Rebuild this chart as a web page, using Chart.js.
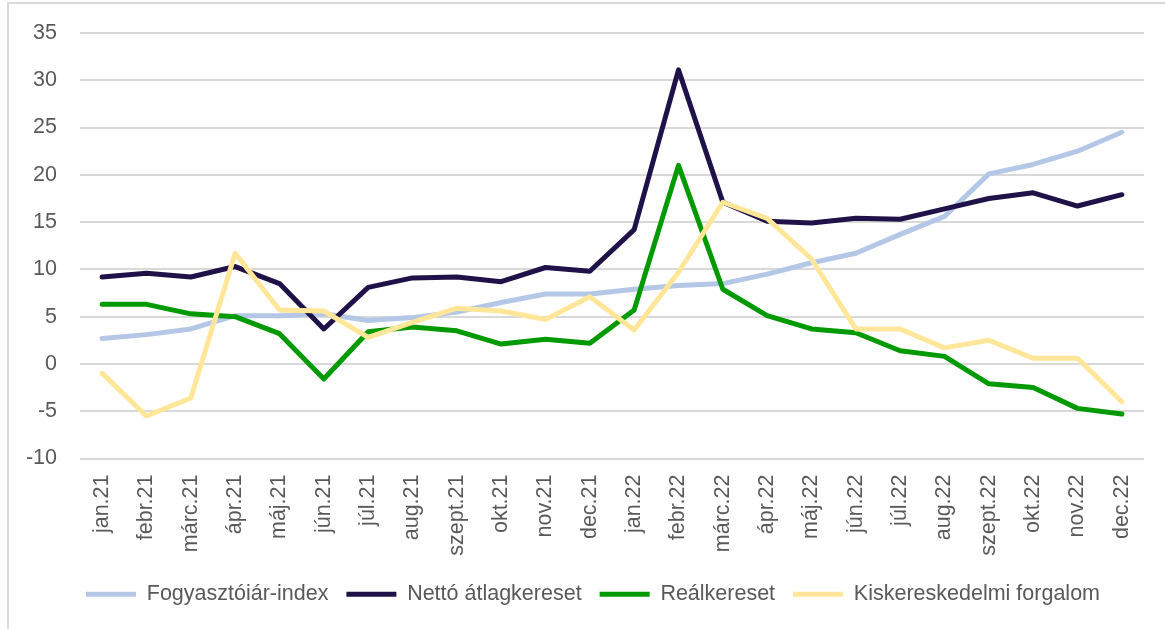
<!DOCTYPE html>
<html>
<head>
<meta charset="utf-8">
<script src="https://cdn.jsdelivr.net/npm/chart.js@4/dist/chart.umd.min.js"></script>
<style>
  html, body { margin: 0; padding: 0; background: #fff; }
  #wrap { position: relative; width: 1165px; height: 629px; overflow: hidden; }
  #frame { position: absolute; left: 7px; top: 2px; width: 1200px; height: 700px;
           border-left: 2px solid #d9d9d9; border-top: 2px solid #d9d9d9; }
  #c { position: absolute; left: 0; top: 0; }
</style>
</head>
<body>
<div id="wrap">
  <div id="frame"></div>
  <canvas id="c" width="1165" height="629"></canvas>
</div>
<script>
const categories = ["jan.21","febr.21","márc.21","ápr.21","máj.21","jún.21","júl.21","aug.21","szept.21","okt.21","nov.21","dec.21",
                    "jan.22","febr.22","márc.22","ápr.22","máj.22","jún.22","júl.22","aug.22","szept.22","okt.22","nov.22","dec.22"];
const fogyasztoiarIndex = [2.7,3.1,3.7,5.1,5.1,5.3,4.6,4.9,5.5,6.5,7.4,7.4,7.9,8.3,8.5,9.5,10.7,11.7,13.7,15.6,20.1,21.1,22.5,24.5];
const nettoAtlagkereset = [9.2,9.6,9.2,10.3,8.5,3.7,8.1,9.1,9.2,8.7,10.2,9.8,14.2,31.1,17.1,15.1,14.9,15.4,15.3,16.4,17.5,18.1,16.7,17.9];
const realkereset = [6.3,6.3,5.3,5.0,3.2,-1.6,3.4,3.9,3.5,2.1,2.6,2.2,5.7,21.0,7.9,5.1,3.7,3.3,1.4,0.8,-2.1,-2.5,-4.7,-5.3];
const kiskereskedelmiForgalom = [-1.0,-5.5,-3.6,11.7,5.7,5.6,2.8,4.4,5.9,5.6,4.7,7.1,3.6,9.7,17.1,15.4,11.1,3.7,3.7,1.7,2.5,0.6,0.6,-4.0];
const seriesNames = ["Fogyasztóiár-index","Nettó átlagkereset","Reálkereset","Kiskereskedelmi forgalom"];
const yTicks = { min: -10, max: 35, step: 5 };

const colors = ["#B4C7E7", "#1F1248", "#009A00", "#FFE699"];
const seriesData = [fogyasztoiarIndex, nettoAtlagkereset, realkereset, kiskereskedelmiForgalom];
const FONT = "'Liberation Sans', Arial, sans-serif";
const TXT = "#595959";

const datasets = seriesData.map((d, i) => ({
  label: seriesNames[i],
  data: d,
  borderColor: colors[i],
  backgroundColor: colors[i],
  borderWidth: 5,
  pointRadius: 0,
  pointHoverRadius: 0,
  tension: 0,
  fill: false,
  borderCapStyle: 'round',
  borderJoinStyle: 'round',
  order: seriesData.length - 1 - i
}));

const legendShift = {
  id: 'legendShift',
  beforeDraw(chart) {
    if (chart.legend) { chart.legend.left = 68; }
  }
};

new Chart(document.getElementById('c'), {
  type: 'line',
  data: { labels: categories, datasets },
  plugins: [legendShift],
  options: {
    responsive: false,
    animation: false,
    events: [],
    layout: { padding: { left: 0, right: 21, top: 33, bottom: 14 } },
    plugins: {
      tooltip: { enabled: false },
      legend: {
        position: 'bottom',
        align: 'start',
        labels: {
          font: { family: FONT, size: 21.5 },
          color: TXT,
          boxWidth: 50,
          boxHeight: 5,
          padding: 18,
          sort: (a, b) => a.datasetIndex - b.datasetIndex,
          generateLabels: (chart) => Chart.defaults.plugins.legend.labels.generateLabels(chart)
            .map(l => Object.assign(l, { lineWidth: 0, fillStyle: l.strokeStyle }))
        }
      }
    },
    scales: {
      x: {
        type: 'category',
        offset: true,
        grid: { display: false, drawTicks: false },
        border: { display: false },
        ticks: {
          font: { family: FONT, size: 21.5 },
          color: TXT,
          minRotation: 90,
          maxRotation: 90,
          autoSkip: false,
          padding: 16
        },
        afterFit: (s) => { s.height = 107; s.paddingLeft = 0; s.paddingRight = 0; }
      },
      y: {
        min: yTicks.min,
        max: yTicks.max,
        grid: { color: '#D9D9D9', lineWidth: 2, drawTicks: false },
        border: { display: false },
        ticks: {
          stepSize: yTicks.step,
          font: { family: FONT, size: 21.5 },
          color: TXT,
          padding: 23
        },
        afterFit: (s) => { s.width = 80; s.paddingTop = 0; s.paddingBottom = 0; }
      }
    }
  }
});
</script>
</body>
</html>
